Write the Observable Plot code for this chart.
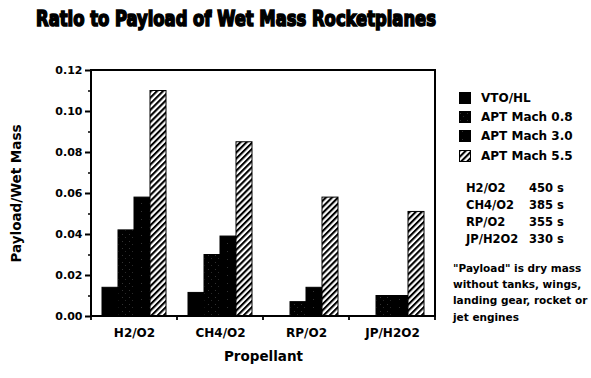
<!DOCTYPE html>
<html>
<head>
<meta charset="utf-8">
<script src="https://cdn.jsdelivr.net/npm/d3@7"></script>
<script src="https://cdn.jsdelivr.net/npm/@observablehq/plot@0.6"></script>
<style>
  html, body { margin: 0; padding: 0; background: #fff; }
  #wrap { position: relative; width: 591px; height: 378px; overflow: hidden; background: #fff; font-family: "DejaVu Sans", sans-serif; font-weight: bold; color: #000; }
  #title { position: absolute; left: 36px; top: 8px; white-space: nowrap; font-family: "DejaVu Sans Condensed", "DejaVu Sans", sans-serif; font-weight: bold; font-size: 22px; line-height: 22px; transform-origin: 0 0; -webkit-text-stroke: 1.6px #000; }
  #chart { position: absolute; left: 0; top: 50px; }
  #legend { position: absolute; left: 459px; top: 88px; }
  .lrow { display: flex; align-items: center; height: 19.3px; font-size: 12px; }
  .lrow svg { margin-right: 10px; }
  #isp { position: absolute; left: 466px; top: 179.5px; display: grid; grid-template-columns: 63px auto; font-size: 11.5px; line-height: 17px; }
  #note { position: absolute; left: 453px; top: 260px; font-size: 10.5px; line-height: 16.2px; white-space: nowrap; }
  #chart svg g[aria-label="y-axis label"] text { font-size: 13.5px; }
  #chart svg g[aria-label="fx-axis label"] text { font-size: 13.5px; }
</style>
</head>
<body>
<svg width="0" height="0" style="position:absolute">
  <defs>
    <pattern id="stip1" patternUnits="userSpaceOnUse" width="7" height="7">
      <rect width="7" height="7" fill="#000"/>
      <rect x="1" y="2" width="1" height="1" fill="#333"/>
      <rect x="4" y="5" width="1" height="1" fill="#2a2a2a"/>
    </pattern>
    <pattern id="stip2" patternUnits="userSpaceOnUse" width="8" height="8">
      <rect width="8" height="8" fill="#000"/>
      <rect x="3" y="1" width="1" height="1" fill="#333"/>
    </pattern>
    <pattern id="hatch" patternUnits="userSpaceOnUse" width="4.3" height="4.3" patternTransform="rotate(45)">
      <rect width="4.3" height="4.3" fill="#fff"/>
      <rect x="0" y="0" width="2.1" height="4.3" fill="#000"/>
    </pattern>
  </defs>
</svg>
<div id="wrap">
  <div id="title"></div>
  <div id="chart"></div>
  <div id="legend"></div>
  <div id="isp"></div>
  <div id="note"></div>
</div>
<script>
// ---- data ----
const titleText = "Ratio to Payload of Wet Mass Rocketplanes";
const propellants = ["H2/O2", "CH4/O2", "RP/O2", "JP/H2O2"];
const series = ["VTO/HL", "APT Mach 0.8", "APT Mach 3.0", "APT Mach 5.5"];
const vtoHL     = [0.014, 0.0115, 0, 0];
const aptMach08 = [0.042, 0.030, 0.007, 0.010];
const aptMach30 = [0.058, 0.039, 0.014, 0.010];
const aptMach55 = [0.110, 0.085, 0.058, 0.051];
const yMajorTicks = [0, 0.02, 0.04, 0.06, 0.08, 0.10, 0.12];
const yMinorTicks = [0.01, 0.03, 0.05, 0.07, 0.09, 0.11];
const ispPropellants = ["H2/O2", "CH4/O2", "RP/O2", "JP/H2O2"];
const ispValues = ["450 s", "385 s", "355 s", "330 s"];
const noteLines = ["\"Payload\" is dry mass", "without tanks, wings,", "landing gear, rocket or", "jet engines"];
const seriesFills = ["#000", "url(#stip1)", "url(#stip2)", "url(#hatch)"];

const seriesValues = [vtoHL, aptMach08, aptMach30, aptMach55];
const rows = [];
propellants.forEach((p, i) => series.forEach((s, j) => {
  const v = seriesValues[j][i];
  if (v > 0) rows.push({propellant: p, series: s, value: v});
}));

// ---- title ----
const titleEl = document.getElementById("title");
titleEl.textContent = titleText;
const tw = titleEl.getBoundingClientRect().width;
titleEl.style.transform = `scaleX(${400 / tw})`;

// ---- chart ----
const plot = Plot.plot({
  width: 591,
  height: 328,
  marginLeft: 89,
  marginRight: 155,
  marginTop: 20,
  marginBottom: 62,
  style: {fontFamily: "DejaVu Sans, sans-serif", fontWeight: "bold", background: "transparent", color: "#000"},
  fx: {domain: propellants, padding: 0, label: "Propellant"},
  x: {domain: series, paddingInner: 0, paddingOuter: 0.54, axis: null},
  y: {domain: [0, 0.12], label: "Payload/Wet Mass"},
  color: {domain: series, range: seriesFills},
  marks: [
    Plot.barY(rows, {fx: "propellant", x: "series", y: "value", fill: "series", stroke: "#000", strokeWidth: 1}),
    Plot.axisY(yMinorTicks, {tickSize: 3, tickFormat: () => "", label: null, strokeWidth: 1.5}),
    Plot.axisY(yMajorTicks, {tickSize: 6, tickPadding: 3, tickFormat: d3.format(".2f"), fontSize: 11,
      label: "Payload/Wet Mass", labelAnchor: "center", labelArrow: "none", labelOffset: 80, strokeWidth: 2}),
    Plot.axisFx({anchor: "bottom", tickSize: 0, tickPadding: 12, fontSize: 12, label: "Propellant", labelAnchor: "center", labelOffset: 44})
  ]
});
document.getElementById("chart").appendChild(plot);

// frame and category boundary ticks, derived from the fx and y scales
const fx = plot.scale("fx");
const ys = plot.scale("y");
const y0 = ys.apply(0), y1 = ys.apply(0.12);
const xL = fx.apply(propellants[0]);
const xR = fx.apply(propellants[propellants.length - 1]) + fx.bandwidth;
const svg = d3.select(plot);
svg.append("rect").attr("aria-label", "frame")
  .attr("x", xL).attr("y", y1).attr("width", xR - xL).attr("height", y0 - y1)
  .attr("fill", "none").attr("stroke", "#000").attr("stroke-width", 2);
const bounds = propellants.map(p => fx.apply(p)).concat([xR]);
svg.append("g").attr("aria-label", "fx boundary ticks")
  .selectAll("line").data(bounds).join("line")
  .attr("x1", d => d).attr("x2", d => d)
  .attr("y1", y0).attr("y2", y0 + 4)
  .attr("stroke", "#000").attr("stroke-width", 1.8);

// ---- legend ----
const legend = d3.select("#legend");
series.forEach((s, i) => {
  const row = legend.append("div").attr("class", "lrow");
  const sw = row.append("svg").attr("width", 12).attr("height", 12);
  sw.append("rect").attr("x", 0.5).attr("y", 0.5).attr("width", 11).attr("height", 11)
    .attr("fill", seriesFills[i]).attr("stroke", "#000");
  row.append("span").text(s);
});
const isp = d3.select("#isp");
ispPropellants.forEach((p, i) => {
  isp.append("div").text(p);
  isp.append("div").text(ispValues[i]);
});
d3.select("#note").selectAll("div").data(noteLines).join("div").text(d => d);
</script>
</body>
</html>
